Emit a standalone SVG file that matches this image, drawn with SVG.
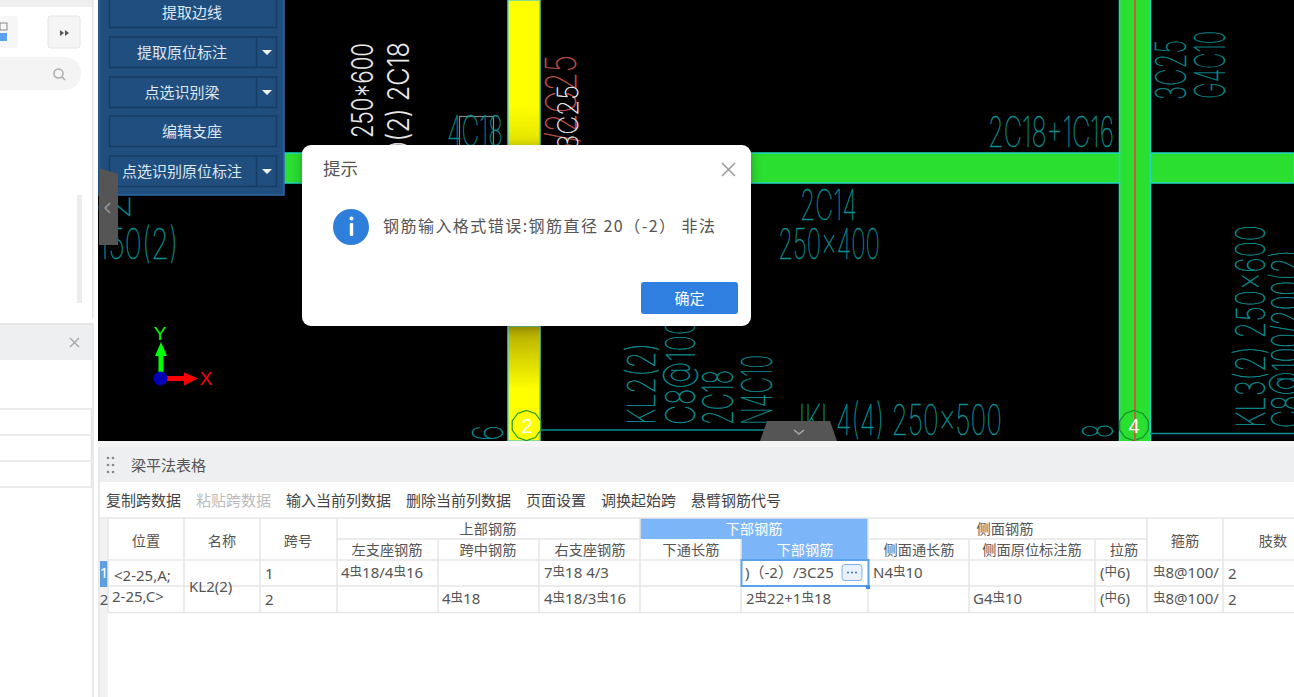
<svg xmlns="http://www.w3.org/2000/svg" width="1294" height="697" viewBox="0 0 1294 697">
<style>
text{font-family:"Noto Sans CJK SC","Liberation Sans",sans-serif}
.c{font-family:Inter,"Liberation Sans",sans-serif;font-weight:100;fill:#0a8f92;stroke:#0a8f92;stroke-width:.5;font-size:42px}
.w{fill:#e8e8e8;stroke:#e8e8e8}
.r{fill:#c2534c;stroke:#c2534c}
.b{fill:#dfe8f2;font-size:15px;text-anchor:middle}
.bb{fill:#1f4e7f;stroke:#173d66;stroke-width:1.5}
.h{fill:#555;font-size:14.200px;text-anchor:middle}
.t{font-family:"Noto Sans","Noto Sans CJK SC",sans-serif;fill:#555;font-size:15px}
.s{font-family:"Noto Sans CJK SC",sans-serif;font-size:12.500px}
.tb{fill:#444;font-size:15px}
.g{stroke:#e6e6e6;stroke-width:1.5;fill:none}
.beam{fill:#2bdf30;stroke:#1fd8c0;stroke-width:1.5}
.ax{font-family:"Liberation Sans",sans-serif;font-size:19px;text-anchor:middle}
.n{font-family:"Liberation Sans",sans-serif;font-size:20px;text-anchor:middle;fill:#fff}
</style>
<defs>
<linearGradient id="yt" x1="0" y1="0" x2="0" y2="1"><stop offset="0.72" stop-color="#ffff00"/><stop offset="1" stop-color="#e2e200"/></linearGradient>
<linearGradient id="yb" x1="0" y1="0" x2="0" y2="1"><stop offset="0" stop-color="#b0a800"/><stop offset="0.55" stop-color="#ffff00"/></linearGradient>
<filter id="sh" x="-10%" y="-20%" width="120%" height="140%"><feDropShadow dx="0" dy="2" stdDeviation="6" flood-color="#000" flood-opacity="0.3"/></filter>
</defs>
<rect width="1294" height="697" fill="#fff"/>
<g id="left-panel">
<rect x="0" y="0" width="92" height="7" fill="#efefef"/>
<rect x="92" y="0" width="1.5" height="318" fill="#e2e2e2"/>
<rect x="0" y="16" width="18" height="32" rx="3" fill="#f6f6f6"/>
<rect x="0" y="23" width="7" height="7" fill="none" stroke="#888"/>
<rect x="0" y="33" width="7" height="8" fill="#5aa2ee"/>
<rect x="48" y="16" width="32" height="32" rx="3" fill="#f5f5f5" stroke="#e4e4e4"/>
<path d="M60 30l4 3-4 3zM65 30l4 3-4 3z" fill="#555"/>
<rect x="-40" y="57" width="121" height="33" rx="16" fill="#f4f4f4"/>
<circle cx="58.500" cy="73.500" r="4.500" fill="none" stroke="#aaa" stroke-width="1.500"/>
<path d="M62 77l3 3" stroke="#aaa" stroke-width="1.500"/>
<rect x="77" y="195" width="5" height="108" fill="#ececec"/>
<rect x="0" y="324" width="93" height="36" fill="#eeeff1"/>
<path d="M0 324H93V697" fill="none" stroke="#e2e2e2" stroke-width="1.500"/>
<path d="M70 338l9 9m0-9l-9 9" stroke="#aaa" stroke-width="1.500"/>
<path d="M0 409H92M0 435H92M0 461H92M0 487H92M91.500 409V487" class="g"/>
</g>
<g id="cad">
<rect x="98" y="0" width="1196" height="441" fill="#000"/>
<rect class="beam" x="284" y="153" width="1010" height="30"/>
<rect x="508" y="0" width="32" height="146" fill="url(#yt)" stroke="#5fd0c0" stroke-width="1.500"/>
<rect x="508" y="326" width="32" height="115" fill="url(#yb)" stroke="#5fd0c0" stroke-width="1.500"/>
<rect x="1119.500" y="-2" width="31" height="445" fill="#2bdf30" stroke="#1fd8c0" stroke-width="1.500"/>
<rect x="1134" y="0" width="2" height="441" fill="#c4603a"/>
<path d="M540 430H765M1150 433.500H1294" stroke="#0a8f92" stroke-width="1.500"/>
<rect x="459.500" y="116.500" width="34" height="30" fill="none" stroke="#888" stroke-width="1.200"/>
<text class="c" x="988" y="147" textLength="126" lengthAdjust="spacingAndGlyphs">2C18+1C16</text>
<text class="c" x="447" y="146" textLength="56" lengthAdjust="spacingAndGlyphs">4C18</text>
<text class="c" x="800" y="220" textLength="57" lengthAdjust="spacingAndGlyphs">2C14</text>
<text class="c" x="778" y="259" textLength="102" lengthAdjust="spacingAndGlyphs">250x400</text>
<text class="c" x="790" y="435" textLength="212" lengthAdjust="spacingAndGlyphs">JKL4(4) 250x500</text>
<text class="c" x="98" y="259" textLength="80" lengthAdjust="spacingAndGlyphs">150(2)</text>
<text class="c" transform="translate(130 220) rotate(-90)" textLength="26" lengthAdjust="spacingAndGlyphs">2</text>
<text class="c" transform="translate(1186 100) rotate(-90)" textLength="60" lengthAdjust="spacingAndGlyphs">3C25</text>
<text class="c" transform="translate(1225 99) rotate(-90)" textLength="68" lengthAdjust="spacingAndGlyphs">G4C10</text>
<text class="c" transform="translate(655 425) rotate(-90)" style="font-size:38px" textLength="82" lengthAdjust="spacingAndGlyphs">KL2(2)</text>
<text class="c" transform="translate(695 425) rotate(-90)" style="font-size:40px" textLength="115" lengthAdjust="spacingAndGlyphs">C8@100/</text>
<text class="c" transform="translate(733 425) rotate(-90)" textLength="55" lengthAdjust="spacingAndGlyphs">2C18</text>
<text class="c" transform="translate(772 425) rotate(-90)" textLength="70" lengthAdjust="spacingAndGlyphs">N4C10</text>
<text class="c" transform="translate(1265 428) rotate(-90)" style="font-size:40px" textLength="203" lengthAdjust="spacingAndGlyphs">KL3(2) 250x600</text>
<text class="c" transform="translate(1301 428) rotate(-90)" style="font-size:40px" textLength="178" lengthAdjust="spacingAndGlyphs">C8@100/200(2)</text>
<text class="c" transform="translate(503 441) rotate(-90)" textLength="16" lengthAdjust="spacingAndGlyphs">6</text>
<text class="c" transform="translate(1113 438) rotate(-90)" textLength="14" lengthAdjust="spacingAndGlyphs">8</text>
<text class="c r" transform="translate(576 160) rotate(-90)" textLength="105" lengthAdjust="spacingAndGlyphs">3/2C25</text>
<text class="c w" transform="translate(578 150) rotate(-90)" style="font-size:28px" textLength="65" lengthAdjust="spacingAndGlyphs">3C25</text>
<text class="c w" transform="translate(373 138) rotate(-90)" style="font-size:30px;font-weight:300;stroke-width:0" textLength="95" lengthAdjust="spacingAndGlyphs">250*600</text>
<text class="c w" transform="translate(409 157) rotate(-90)" style="font-size:30px;font-weight:300;stroke-width:0" textLength="115" lengthAdjust="spacingAndGlyphs">0(2) 2C18</text>
</g>
<g id="grid-2">
<polygon points="526.500,410.500 535.300,413.400 540.800,421 540.800,430 535.300,437.600 526.500,440.500 517.700,437.600 512.200,430 512.200,421 517.700,413.400" fill="#ffff00" stroke="#1f9a1f" stroke-width="1.200"/>
<text class="n" x="527" y="433">2</text>
</g>
<g id="grid-4">
<polygon points="1134,410.500 1142.800,413.400 1148.300,421 1148.300,430 1142.800,437.600 1134,440.500 1125.200,437.600 1119.700,430 1119.700,421 1125.200,413.400" fill="#2bdf30" stroke="#148a30" stroke-width="1.200"/>
<rect x="1134" y="412" width="2" height="29" fill="#c4603a"/>
<text class="n" x="1134" y="433">4</text>
</g>
<g id="axis">
<rect x="158.500" y="352" width="5" height="24" fill="#00ff00"/>
<path d="M161 342l6 14h-12z" fill="#00ff00"/>
<rect x="165" y="376" width="20" height="5" fill="#ff0000"/>
<path d="M198 378.500l-14-6v13z" fill="#ff0000"/>
<circle cx="160.500" cy="378.500" r="7" fill="#0000b8"/>
<text class="ax" x="160" y="340" fill="#00ff00">Y</text>
<text class="ax" x="206" y="385" fill="#ff0000">X</text>
</g>
<g id="tool-panel">
<rect x="99" y="-2" width="185" height="197" fill="#1f4e7f" stroke="#2b6aa8" stroke-width="1.500"/>
<rect class="bb" x="109.500" y="-3" width="167" height="30.500"/>
<rect class="bb" x="109.500" y="37" width="167" height="30.500"/>
<rect class="bb" x="109.500" y="77" width="167" height="30.500"/>
<rect class="bb" x="109.500" y="116" width="167" height="30.500"/>
<rect class="bb" x="109.500" y="156" width="167" height="30.500"/>
<path d="M256.500 37V67.500M256.500 77V107.500M256.500 156V186.500" stroke="#173d66" stroke-width="1.500"/>
<path d="M262 50h10l-5 5zM262 90h10l-5 5zM262 169h10l-5 5z" fill="#f2f2f2"/>
<text class="b" x="192" y="18">提取边线</text>
<text class="b" x="182" y="58">提取原位标注</text>
<text class="b" x="182" y="98">点选识别梁</text>
<text class="b" x="192" y="137">编辑支座</text>
<text class="b" x="182" y="177">点选识别原位标注</text>
<polygon points="99,168 118,174 118,245 99,245" fill="#555"/>
<path d="M110 203l-5 5 5 5" fill="none" stroke="#999" stroke-width="1.500"/>
</g>
<g id="bottom-handle">
<polygon points="760,441 767,421 830,421 837,441" fill="#555"/>
<path d="M794 430l5 4 5-4" fill="none" stroke="#aaa" stroke-width="1.500"/>
</g>
<g id="table-panel">
<rect x="98" y="441" width="1196" height="256" fill="#fff"/>
<rect x="98" y="441" width="1196" height="6" fill="#f4f4f4"/>
<rect x="99" y="447" width="1195" height="35" fill="#eeeff1"/>
<path d="M99 447V697" stroke="#e2e2e2" stroke-width="1.500"/>
<g fill="#888"><circle cx="108" cy="458" r="1.300"/><circle cx="113" cy="458" r="1.300"/><circle cx="108" cy="465" r="1.300"/><circle cx="113" cy="465" r="1.300"/><circle cx="108" cy="472" r="1.300"/><circle cx="113" cy="472" r="1.300"/></g>
<text x="131" y="471" fill="#555" font-size="15">梁平法表格</text>
<text class="tb" x="106" y="506">复制跨数据</text>
<text class="tb" x="196" y="506" style="fill:#bbb">粘贴跨数据</text>
<text class="tb" x="286" y="506">输入当前列数据</text>
<text class="tb" x="406" y="506">删除当前列数据</text>
<text class="tb" x="526" y="506">页面设置</text>
<text class="tb" x="601" y="506">调换起始跨</text>
<text class="tb" x="691" y="506">悬臂钢筋代号</text>
</g>
<g id="table">
<rect x="100" y="519" width="8" height="178" fill="#f2f2f2"/>
<rect x="100" y="561" width="8" height="26" fill="#5f9fe0"/>
<rect x="640" y="518" width="228" height="21" fill="#7cb6f8"/>
<rect x="741" y="539" width="127" height="21" fill="#7cb6f8"/>
<path class="g" d="M99 518H1294M337 539H640M868 539H1147M108 560H1294M108 586H1294M108 612.500H1294M108 518V612M184 518V612M260 518V612M337 518V612M438 539V612M539 539V612M640 518V612M741 539V612M868 518V612M969 539V612M1095 539V612M1147 518V612M1223 518V612"/>
<rect x="741.500" y="560" width="127" height="26" fill="#fff" stroke="#5aa2f0" stroke-width="2"/>
<rect x="866" y="585" width="4" height="4" fill="#3f8fe8"/>
<rect x="842" y="564.500" width="20" height="16" rx="3" fill="#e9f1fb" stroke="#7cb0ea"/>
<path d="M847 572.500h2M851 572.500h2M855 572.500h2" stroke="#3c78c0" stroke-width="1.500"/>
<text class="h" x="146" y="546">位置</text>
<text class="h" x="222" y="546">名称</text>
<text class="h" x="298" y="546">跨号</text>
<text class="h" x="488" y="534">上部钢筋</text>
<text class="h" x="754" y="534" style="fill:#fff">下部钢筋</text>
<text class="h" x="1005" y="534">侧面钢筋</text>
<text class="h" x="387" y="555">左支座钢筋</text>
<text class="h" x="488" y="555">跨中钢筋</text>
<text class="h" x="590" y="555">右支座钢筋</text>
<text class="h" x="691" y="555">下通长筋</text>
<text class="h" x="805" y="555" style="fill:#fff">下部钢筋</text>
<text class="h" x="919" y="555">侧面通长筋</text>
<text class="h" x="1032" y="555">侧面原位标注筋</text>
<text class="h" x="1124" y="555">拉筋</text>
<text class="h" x="1185" y="546">箍筋</text>
<text class="h" x="1273" y="546">肢数</text>
<text class="t" x="104" y="578" text-anchor="middle" style="fill:#fff">1</text>
<text class="t" x="104" y="605" text-anchor="middle">2</text>
<text class="t" x="114" y="581">&lt;2-25,A;</text>
<text class="t" x="112" y="602">2-25,C&gt;</text>
<text class="t" x="189" y="592">KL2(2)</text>
<text class="t" x="265" y="579">1</text>
<text class="t" x="265" y="605">2</text>
<text class="t" x="341" y="578">4<tspan class="s" dy="-2">虫</tspan><tspan dy="2">18/4</tspan><tspan class="s" dy="-2">虫</tspan><tspan dy="2">16</tspan></text>
<text class="t" x="544" y="578">7<tspan class="s" dy="-2">虫</tspan><tspan dy="2">18 4/3</tspan></text>
<text class="t" x="745" y="578">)（-2）/3C25</text>
<text class="t" x="873" y="578">N4<tspan class="s" dy="-2">虫</tspan><tspan dy="2">10</tspan></text>
<text class="t" x="1100" y="578">(<tspan class="s" dy="-2">中</tspan><tspan dy="2">6)</tspan></text>
<text class="t" x="1153" y="578"><tspan class="s" dy="-2">虫</tspan><tspan dy="2">8@100/</tspan></text>
<text class="t" x="1228" y="579">2</text>
<text class="t" x="442" y="604">4<tspan class="s" dy="-2">虫</tspan><tspan dy="2">18</tspan></text>
<text class="t" x="544" y="604">4<tspan class="s" dy="-2">虫</tspan><tspan dy="2">18/3</tspan><tspan class="s" dy="-2">虫</tspan><tspan dy="2">16</tspan></text>
<text class="t" x="746" y="604">2<tspan class="s" dy="-2">虫</tspan><tspan dy="2">22+1</tspan><tspan class="s" dy="-2">虫</tspan><tspan dy="2">18</tspan></text>
<text class="t" x="973" y="604">G4<tspan class="s" dy="-2">虫</tspan><tspan dy="2">10</tspan></text>
<text class="t" x="1100" y="604">(<tspan class="s" dy="-2">中</tspan><tspan dy="2">6)</tspan></text>
<text class="t" x="1153" y="604"><tspan class="s" dy="-2">虫</tspan><tspan dy="2">8@100/</tspan></text>
<text class="t" x="1228" y="605">2</text>
</g>
<g id="dialog">
<rect x="302" y="145" width="449" height="181" rx="9" fill="#fff" filter="url(#sh)"/>
<text x="323" y="175" fill="#555" font-size="17.500">提示</text>
<path d="M722 163l13 13m0-13l-13 13" stroke="#999" stroke-width="1.500"/>
<circle cx="351" cy="227" r="18" fill="#2e7fdc"/>
<circle cx="351.500" cy="218.500" r="2" fill="#fff"/>
<rect x="349.800" y="223" width="3.400" height="13" rx="1" fill="#fff"/>
<text x="383" y="232" fill="#555" font-size="16" textLength="332">钢筋输入格式错误:钢筋直径 20（-2） 非法</text>
<rect x="641" y="282" width="97" height="32" rx="3" fill="#2e7fe0"/>
<text x="689.500" y="304" fill="#fff" font-size="15" text-anchor="middle">确定</text>
</g>
</svg>
